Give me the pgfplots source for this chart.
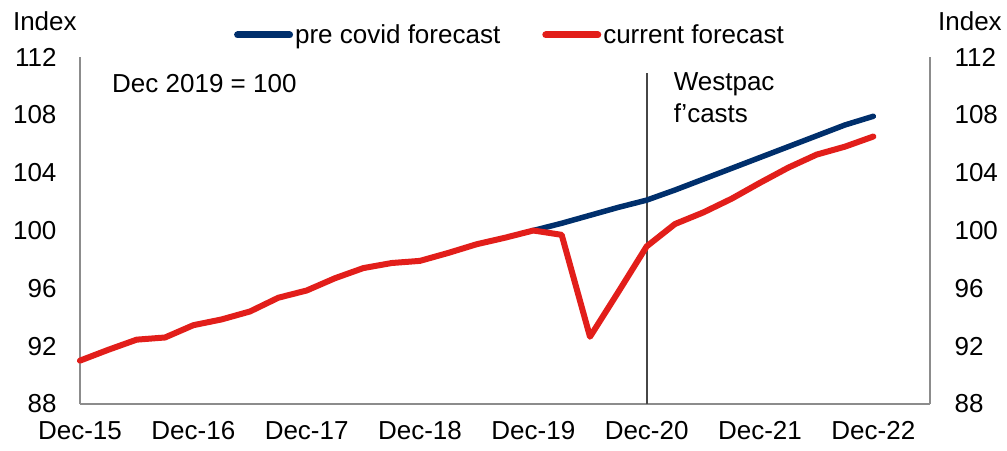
\documentclass[border=0pt]{standalone}
\usepackage{fontspec}
\setmainfont{Liberation Sans}
\usepackage{pgfplots}
\pgfplotsset{compat=1.18}

\definecolor{wbpBlue}{RGB}{0,47,108}
\definecolor{wbpRed}{RGB}{226,30,26}
\definecolor{axisGrey}{RGB}{140,140,140}
\definecolor{cutGrey}{RGB}{70,70,70}

\newcommand{\chartfont}{\fontsize{26pt}{31pt}\selectfont}

\begin{document}
\begin{tikzpicture}[font=\chartfont]
\pgfplotsset{
  frame/.style={
    scale only axis, width=850pt, height=347pt,
    xmin=0, xmax=30, ymin=88, ymax=112,
    major tick length=0pt,
    ytick={88,92,...,112},
    /pgf/number format/assume math mode=true,
    tick label style={font=\chartfont},
    axis line style={axisGrey, line width=1.3pt},
    clip=false,
  }
}
\begin{axis}[frame,
    axis x line*=bottom, axis y line*=left,
    xtick={0,4,...,28},
    xticklabels={Dec-15,Dec-16,Dec-17,Dec-18,Dec-19,Dec-20,Dec-21,Dec-22},
    xticklabel style={yshift=-14pt},
    yticklabel style={xshift=-20pt},
    legend style={draw=none, fill=none, font=\chartfont,
      at={(0.5,1)}, anchor=center, yshift=22pt, xshift=5pt,
      legend columns=2, inner sep=0pt,
      nodes={inner sep=2pt},
      /tikz/every even column/.append style={column sep=40pt}},
    legend image code/.code={\draw[line width=7pt, line cap=round] (2pt,0pt) -- (54pt,0pt);},
  ]
  % forecast cut-off marker
  \addplot[cutGrey, line width=2pt, forget plot] coordinates {(20,88) (20,110.9)};

  \addplot[wbpBlue, line width=5.5pt, line cap=round, line join=round] coordinates {
    (16,100.0) (17,100.5) (18,101.05) (19,101.6) (20,102.1) (21,102.8)
    (22,103.55) (23,104.3) (24,105.05) (25,105.8) (26,106.55) (27,107.3) (28,107.9)
  };
  \addlegendentry{pre covid forecast}

  \addplot[wbpRed, line width=6pt, line cap=round, line join=round] coordinates {
    (0,91.0) (1,91.75) (2,92.45) (3,92.6) (4,93.45) (5,93.85) (6,94.4)
    (7,95.35) (8,95.85) (9,96.7) (10,97.4) (11,97.75) (12,97.9) (13,98.45)
    (14,99.05) (15,99.5) (16,100.0) (17,99.7) (18,92.65) (19,95.75) (20,98.9)
    (21,100.45) (22,101.25) (23,102.2) (24,103.3) (25,104.35) (26,105.25)
    (27,105.8) (28,106.5)
  };
  \addlegendentry{current forecast}

  \node[anchor=base west, inner sep=0pt] at (axis cs:1.13,109.51) {Dec 2019 = 100};
  \node[anchor=base west, inner sep=0pt] at (axis cs:20.95,109.65) {Westpac};
  \node[anchor=base west, inner sep=0pt] at (axis cs:20.95,107.5) {f’casts};
  \node[anchor=base west, inner sep=0pt] at (axis cs:-2.37,113.8) {Index};
  \node[anchor=base west, inner sep=0pt] at (axis cs:30.28,113.8) {Index};
\end{axis}
\begin{axis}[frame,
    axis x line=none, axis y line*=right,
    xtick=\empty,
    yticklabel style={anchor=west, xshift=21pt},
  ]
\end{axis}
\pgfresetboundingbox
\path (-80pt,-46pt) rectangle (927pt,404pt);
\end{tikzpicture}
\end{document}
